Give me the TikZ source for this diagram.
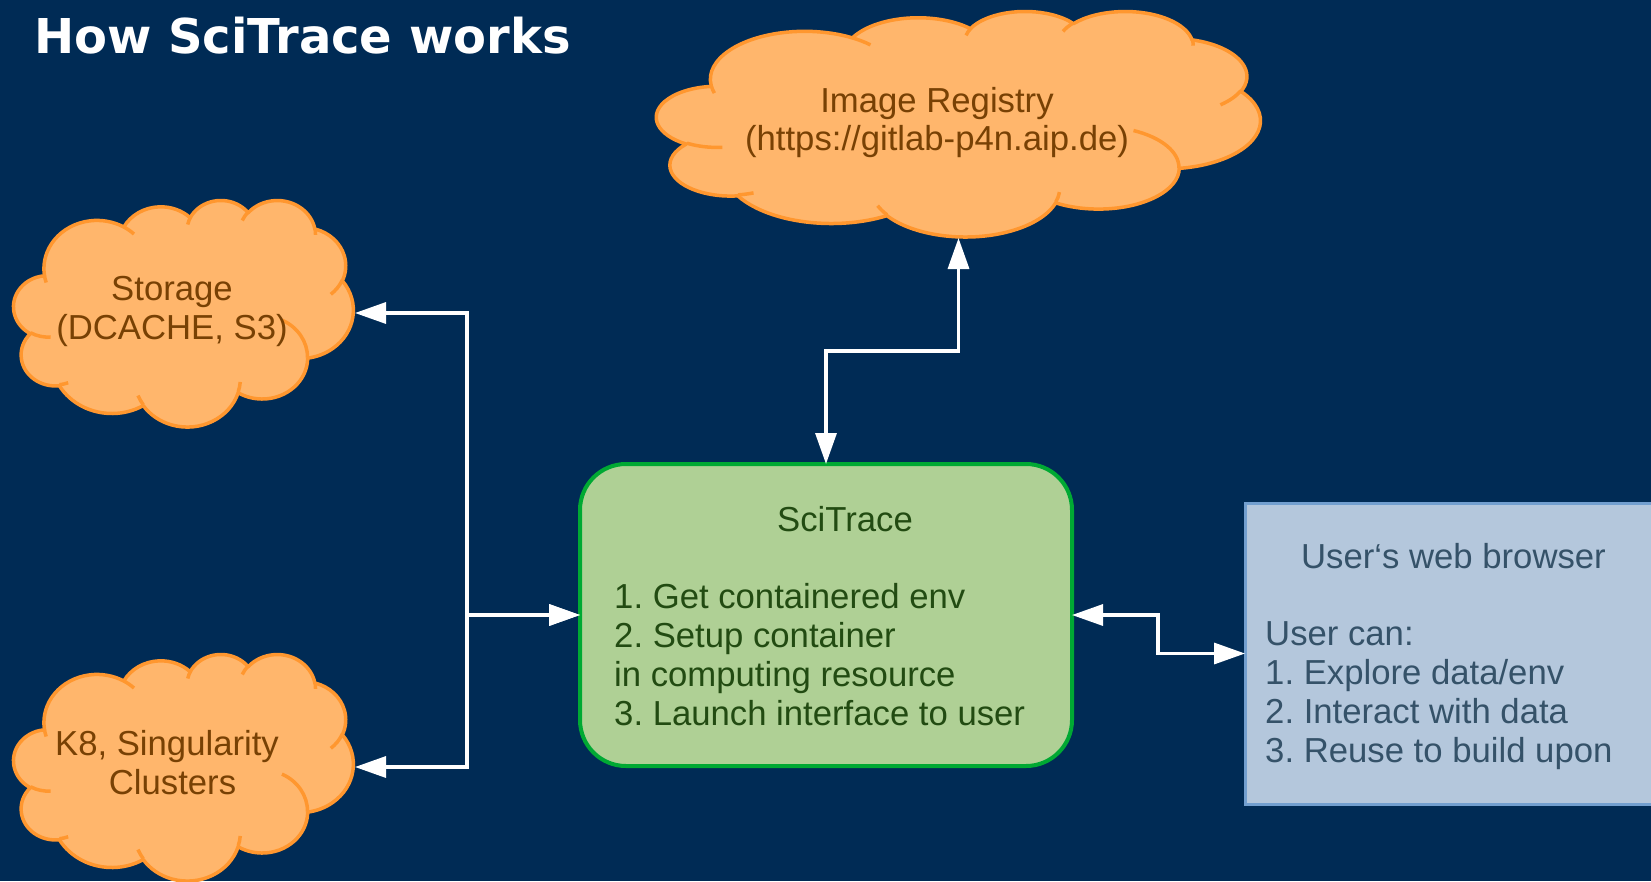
\documentclass[tikz,border=0pt]{standalone}
\usepackage{fontspec}
\setmainfont{Liberation Sans}
\newfontfamily\headfont{DejaVu Sans}
\usetikzlibrary{arrows.meta}
\frenchspacing

\definecolor{pagebg}{HTML}{002B55}
\definecolor{cloudfill}{HTML}{FFB66C}
\definecolor{cloudline}{HTML}{FF972F}
\definecolor{cloudtext}{HTML}{784104}
\definecolor{scifill}{HTML}{AFD095}
\definecolor{sciline}{HTML}{00A933}
\definecolor{scitext}{HTML}{224B12}
\definecolor{webfill}{HTML}{B4C7DC}
\definecolor{webline}{HTML}{729FCF}
\definecolor{webtext}{HTML}{355269}

% one elliptic arc given by radii, start angle and sweep (angles measured
% as directions from the centre, y pointing down)
\newcommand\cldarc[4]{%
  \pgfmathsetmacro\cldA{atan2((#1)*sin(#3),(#2)*cos(#3))}%
  \pgfmathsetmacro\cldE{(#3)+(#4)}%
  \pgfmathsetmacro\cldB{atan2((#1)*sin(\cldE),(#2)*cos(\cldE))}%
  \pgfmathsetmacro\cldB{\cldB<\cldA ? \cldB+360 : \cldB}%
  \pgfpatharc{\cldA}{\cldB}{#1pt and #2pt}}

% puffy cloud filling a box: centre x, centre y (y downwards), outer width, outer height
\newcommand\officecloud[4]{%
  \begin{pgfscope}
    \pgfsetlinewidth{3.5pt}%
    \pgfsetroundjoin
    \pgfsetstrokecolor{cloudline}\pgfsetfillcolor{cloudfill}%
    \pgfmathsetmacro\cldL{#1-(#3)/2+1.75}%
    \pgfmathsetmacro\cldT{#2-(#4)/2+1.75}%
    \pgfmathsetmacro\cldSx{((#3)-3.5)/4320}%
    \pgfmathsetmacro\cldSy{-((#4)-3.5)/4320}%
    \pgftransformshift{\pgfpoint{\cldL pt}{-\cldT pt}}%
    \pgftransformxscale{\cldSx}%
    \pgftransformyscale{\cldSy}%
    % outline
    \pgfpathmoveto{\pgfqpoint{390pt}{1437pt}}%
    \cldarc{675.3}{919.0}{-190.4875}{123.7805}%
    \cldarc{533.3}{726.7}{-144.1024}{89.9452}%
    \cldarc{436.5}{594.5}{-145.8079}{99.7230}%
    \cldarc{485.7}{659.5}{-130.9861}{117.2417}%
    \cldarc{533.3}{727.3}{-78.7089}{109.0269}%
    \cldarc{677.5}{922.0}{-46.2673}{130.2690}%
    \cldarc{578.5}{786.7}{0.6250}{114.0333}%
    \cldarc{675.2}{921.5}{22.4516}{115.1726}%
    \cldarc{772.0}{1054.3}{66.2426}{75.7110}%
    \cldarc{436.0}{591.8}{-274.9421}{146.7356}%
    \cldarc{434.5}{594.5}{-246.8285}{152.5189}%
    \pgfpathclose
    \pgfusepath{fill,stroke}%
    % inner puff edges
    \pgfpathmoveto{\pgfqpoint{469.3pt}{2617.7pt}}\cldarc{434.5}{594.5}{86.742}{26.4295}%
    \pgfpathmoveto{\pgfqpoint{692.8pt}{3489.9pt}}\cldarc{436.0}{591.8}{73.6105}{11.4475}%
    \pgfpathmoveto{\pgfqpoint{1647.8pt}{3909.0pt}}\cldarc{675.2}{921.5}{137.6242}{14.0811}%
    \pgfpathmoveto{\pgfqpoint{2882.7pt}{3475.1pt}}\cldarc{675.2}{921.5}{6.4533}{15.9984}%
    \pgfpathmoveto{\pgfqpoint{3412.9pt}{2295.4pt}}\cldarc{578.5}{786.7}{-70.2924}{70.9174}%
    \pgfpathmoveto{\pgfqpoint{4179.8pt}{1535.4pt}}\cldarc{533.3}{727.3}{30.3180}{27.7515}%
    \pgfpathmoveto{\pgfqpoint{3832.4pt}{542.6pt}}\cldarc{485.7}{659.5}{-13.7443}{14.8589}%
    \pgfpathmoveto{\pgfqpoint{2907.8pt}{395.2pt}}\cldarc{485.7}{659.5}{-149.1815}{18.1954}%
    \pgfpathmoveto{\pgfqpoint{2214.1pt}{472.0pt}}\cldarc{436.5}{594.5}{-163.4943}{17.6864}%
    \pgfpathmoveto{\pgfqpoint{1400.0pt}{519.2pt}}\cldarc{675.3}{919.0}{-66.7070}{12.3194}%
    \pgfpathmoveto{\pgfqpoint{412.7pt}{1578.9pt}}\cldarc{675.3}{919.0}{157.6544}{11.8582}%
    \pgfusepath{stroke}%
  \end{pgfscope}}

\tikzset{
  cloudbox/.style={inner sep=0pt, outer sep=0pt},
  scibox/.style={draw=sciline, fill=scifill, line width=4pt, rounded corners=46pt,
    inner sep=0pt, outer sep=0pt},
  webbox/.style={draw=webline, fill=webfill, line width=3pt, inner sep=0pt, outer sep=0pt},
  txt/.style={inner sep=0pt, font=\fontsize{34.7pt}{39pt}\selectfont},
  cloudlbl/.style={txt, text=cloudtext, anchor=base},
  scilbl/.style={txt, text=scitext},
  weblbl/.style={txt, text=webtext},
  conn/.style={draw=white, line width=3.3pt, line join=miter,
    arrows={Triangle[length=31pt,width=21pt]-Triangle[length=31pt,width=21pt]}},
}

\begin{document}
\begin{tikzpicture}[x=1pt, y=-1pt]
  \fill[pagebg] (0,0) rectangle (1651,881);
  \useasboundingbox (0,0) rectangle (1651,881);

  % heading
  \node[inner sep=0pt, anchor=base west, text=white,
        font=\headfont\bfseries\fontsize{48pt}{56pt}\selectfont] (title) at (34,53) {How SciTrace works};

  % clouds
  \node[cloudbox, minimum width=607pt, minimum height=229pt] (imgreg) at (958.5,123.5) {};
  \officecloud{958.5}{123.5}{607}{229}
  \node[cloudlbl] (imgreg1) at (937,112) {Image Registry};
  \node[cloudlbl] (imgreg2) at (937,150) {(https://gitlab-p4n.aip.de)};

  \node[cloudbox, minimum width=343pt, minimum height=230pt] (storage) at (183.5,313) {};
  \officecloud{183.5}{313}{343}{230}
  \node[cloudlbl] (storage1) at (172,300) {Storage};
  \node[cloudlbl] (storage2) at (172,339) {(DCACHE, S3)};

  \node[cloudbox, minimum width=343pt, minimum height=230pt] (k8) at (183.5,767) {};
  \officecloud{183.5}{767}{343}{230}
  \node[cloudlbl] (k81) at (167,755) {K8, Singularity};
  \node[cloudlbl] (k82) at (172.5,794) {Clusters};

  % SciTrace service
  \node[scibox, minimum width=492pt, minimum height=302pt] (scitrace) at (826,615) {};
  \node[scilbl, anchor=base] (sci0) at (845,531) {SciTrace};
  \node[scilbl, anchor=base west] (sci1) at (614,608) {1. Get containered env};
  \node[scilbl, anchor=base west] (sci2) at (614,647) {2. Setup container};
  \node[scilbl, anchor=base west] (sci3) at (614,686) {in computing resource};
  \node[scilbl, anchor=base west] (sci4) at (614,725) {3. Launch interface to user};

  % browser
  \node[webbox, minimum width=417pt, minimum height=301pt] (browser) at (1453.5,653.5) {};
  \node[weblbl, anchor=base] (web0) at (1453.5,568) {User‘s web browser};
  \node[weblbl, anchor=base west] (web1) at (1265,645.7) {User can:};
  \node[weblbl, anchor=base west] (web2) at (1265,684.7) {1. Explore data/env};
  \node[weblbl, anchor=base west] (web3) at (1265,723.7) {2. Interact with data};
  \node[weblbl, anchor=base west] (web4) at (1265,762.7) {3. Reuse to build upon};

  % connectors
  \coordinate (bus) at (467,615);
  \coordinate (regbend) at (826,351);
  \coordinate (webbend) at (1158,615);
  \draw[conn] (scitrace.north) -- (regbend) -| (imgreg.south);
  \draw[conn] (scitrace.west) -- (bus) |- (storage.east);
  \draw[conn] (scitrace.west) -- (bus) |- (k8.east);
  \draw[conn] (scitrace.east) -- (webbend) |- (browser.west);
\end{tikzpicture}
\end{document}
